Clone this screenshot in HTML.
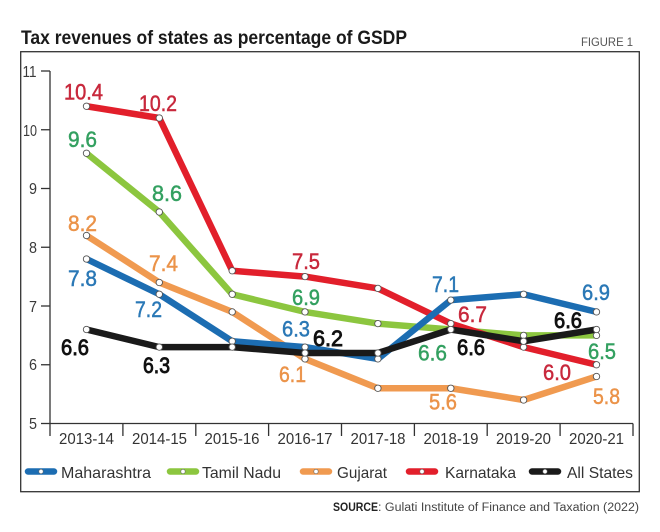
<!DOCTYPE html>
<html>
<head>
<meta charset="utf-8">
<style>
html,body{margin:0;padding:0;background:#fff;}
svg{display:block;}
text{font-family:"Liberation Sans",sans-serif;}
</style>
</head>
<body>
<svg width="660" height="532" viewBox="0 0 660 532" xmlns="http://www.w3.org/2000/svg">
<rect width="660" height="532" fill="#fff"/>
<!-- title -->
<text x="21" y="44" font-size="19.5" font-weight="bold" fill="#1a1a1a" textLength="386" lengthAdjust="spacingAndGlyphs">Tax revenues of states as percentage of GSDP</text>
<text x="581" y="46" font-size="12" fill="#555" textLength="52" lengthAdjust="spacingAndGlyphs">FIGURE 1</text>
<!-- frame -->
<rect x="20.7" y="51.7" width="618.6" height="440" fill="none" stroke="#333" stroke-width="1.3"/>

<!-- y axis -->
<g stroke="#333" stroke-width="1.3" fill="none">
<line x1="50" y1="71" x2="50" y2="436"/>
<line x1="41" y1="71" x2="50" y2="71"/>
<line x1="41" y1="129.75" x2="50" y2="129.75"/>
<line x1="41" y1="188.5" x2="50" y2="188.5"/>
<line x1="41" y1="247.25" x2="50" y2="247.25"/>
<line x1="41" y1="306" x2="50" y2="306"/>
<line x1="41" y1="364.75" x2="50" y2="364.75"/>
<line x1="41" y1="423.5" x2="50" y2="423.5"/>
<line x1="50" y1="423.5" x2="633" y2="423.5"/>
<line x1="122.9" y1="423.5" x2="122.9" y2="436"/>
<line x1="195.8" y1="423.5" x2="195.8" y2="436"/>
<line x1="268.6" y1="423.5" x2="268.6" y2="436"/>
<line x1="341.5" y1="423.5" x2="341.5" y2="436"/>
<line x1="414.4" y1="423.5" x2="414.4" y2="436"/>
<line x1="487.2" y1="423.5" x2="487.2" y2="436"/>
<line x1="560.1" y1="423.5" x2="560.1" y2="436"/>
<line x1="633" y1="423.5" x2="633" y2="436"/>
</g>
<g font-size="15.5" fill="#3a3a3a">
<text x="22.5" y="77" textLength="14" lengthAdjust="spacingAndGlyphs">11</text>
<text x="23" y="136" textLength="14" lengthAdjust="spacingAndGlyphs">10</text>
<text x="29" y="194" textLength="8" lengthAdjust="spacingAndGlyphs">9</text>
<text x="29" y="253" textLength="8" lengthAdjust="spacingAndGlyphs">8</text>
<text x="29" y="312" textLength="8" lengthAdjust="spacingAndGlyphs">7</text>
<text x="29" y="370" textLength="8" lengthAdjust="spacingAndGlyphs">6</text>
<text x="29" y="429" textLength="8" lengthAdjust="spacingAndGlyphs">5</text>
</g>
<g font-size="15.5" fill="#333">
<text x="59" y="444" textLength="55" lengthAdjust="spacingAndGlyphs">2013-14</text>
<text x="132" y="444" textLength="55" lengthAdjust="spacingAndGlyphs">2014-15</text>
<text x="204.5" y="444" textLength="55" lengthAdjust="spacingAndGlyphs">2015-16</text>
<text x="277.5" y="444" textLength="55" lengthAdjust="spacingAndGlyphs">2016-17</text>
<text x="350.5" y="444" textLength="55" lengthAdjust="spacingAndGlyphs">2017-18</text>
<text x="423.5" y="444" textLength="55" lengthAdjust="spacingAndGlyphs">2018-19</text>
<text x="496" y="444" textLength="55" lengthAdjust="spacingAndGlyphs">2019-20</text>
<text x="569" y="444" textLength="55" lengthAdjust="spacingAndGlyphs">2020-21</text>
</g>

<!-- series -->
<g fill="none" stroke-width="6.5" stroke-linejoin="round" stroke-linecap="round">
<polyline stroke="#f09a50" points="86.5,235.5 159.3,282.5 232.2,311.9 305,358.9 377.9,388.25 450.8,388.25 523.6,400 596.5,376.5"/>
<polyline stroke="#8cc63f" points="86.5,153.25 159.3,212 232.2,294.25 305,311.9 377.9,323.6 450.8,329.5 523.6,335.4 596.5,335.4"/>
<polyline stroke="#e21f2b" points="86.5,106.25 159.3,118 232.2,270.75 305,276.6 377.9,288.4 450.8,323.6 523.6,347.1 596.5,364.75"/>
<polyline stroke="#1c6db2" points="86.5,259 159.3,294.25 232.2,341.25 305,347.1 377.9,358.9 450.8,300.1 523.6,294.25 596.5,311.9"/>
<polyline stroke="#1a1a1a" points="86.5,329.5 159.3,347.1 232.2,347.1 305,353 377.9,353 450.8,329.5 523.6,341.25 596.5,329.5"/>
</g>
<!-- markers -->
<g fill="#fff" stroke="#555" stroke-width="0.9">
<circle cx="86.5" cy="235.5" r="3.2"/><circle cx="159.3" cy="282.5" r="3.2"/><circle cx="232.2" cy="311.9" r="3.2"/><circle cx="305" cy="358.9" r="3.2"/><circle cx="377.9" cy="388.25" r="3.2"/><circle cx="450.8" cy="388.25" r="3.2"/><circle cx="523.6" cy="400" r="3.2"/><circle cx="596.5" cy="376.5" r="3.2"/>
<circle cx="86.5" cy="153.25" r="3.2"/><circle cx="159.3" cy="212" r="3.2"/><circle cx="232.2" cy="294.25" r="3.2"/><circle cx="305" cy="311.9" r="3.2"/><circle cx="377.9" cy="323.6" r="3.2"/><circle cx="450.8" cy="329.5" r="3.2"/><circle cx="523.6" cy="335.4" r="3.2"/><circle cx="596.5" cy="335.4" r="3.2"/>
<circle cx="86.5" cy="106.25" r="3.2"/><circle cx="159.3" cy="118" r="3.2"/><circle cx="232.2" cy="270.75" r="3.2"/><circle cx="305" cy="276.6" r="3.2"/><circle cx="377.9" cy="288.4" r="3.2"/><circle cx="450.8" cy="323.6" r="3.2"/><circle cx="523.6" cy="347.1" r="3.2"/><circle cx="596.5" cy="364.75" r="3.2"/>
<circle cx="86.5" cy="259" r="3.2"/><circle cx="159.3" cy="294.25" r="3.2"/><circle cx="232.2" cy="341.25" r="3.2"/><circle cx="305" cy="347.1" r="3.2"/><circle cx="377.9" cy="358.9" r="3.2"/><circle cx="450.8" cy="300.1" r="3.2"/><circle cx="523.6" cy="294.25" r="3.2"/><circle cx="596.5" cy="311.9" r="3.2"/>
<circle cx="86.5" cy="329.5" r="3.2"/><circle cx="159.3" cy="347.1" r="3.2"/><circle cx="232.2" cy="347.1" r="3.2"/><circle cx="305" cy="353" r="3.2"/><circle cx="377.9" cy="353" r="3.2"/><circle cx="450.8" cy="329.5" r="3.2"/><circle cx="523.6" cy="341.25" r="3.2"/><circle cx="596.5" cy="329.5" r="3.2"/>
</g>

<!-- value labels -->
<g font-size="22" stroke-width="0.5">
<g fill="#c8283c" stroke="#c8283c">
<text x="64" y="99.5" textLength="39" lengthAdjust="spacingAndGlyphs">10.4</text>
<text x="139" y="111" textLength="38" lengthAdjust="spacingAndGlyphs">10.2</text>
<text x="292" y="269" textLength="28" lengthAdjust="spacingAndGlyphs">7.5</text>
<text x="458" y="322" textLength="29" lengthAdjust="spacingAndGlyphs">6.7</text>
<text x="543" y="380" textLength="28" lengthAdjust="spacingAndGlyphs">6.0</text>
</g>
<g fill="#33a060" stroke="#33a060">
<text x="68" y="147" textLength="29" lengthAdjust="spacingAndGlyphs">9.6</text>
<text x="152" y="201" textLength="30" lengthAdjust="spacingAndGlyphs">8.6</text>
<text x="292" y="305" textLength="28" lengthAdjust="spacingAndGlyphs">6.9</text>
<text x="418" y="360.5" textLength="29" lengthAdjust="spacingAndGlyphs">6.6</text>
<text x="588" y="359" textLength="28" lengthAdjust="spacingAndGlyphs">6.5</text>
</g>
<g fill="#2a78b6" stroke="#2a78b6">
<text x="68" y="286" textLength="29" lengthAdjust="spacingAndGlyphs">7.8</text>
<text x="135" y="317" textLength="27" lengthAdjust="spacingAndGlyphs">7.2</text>
<text x="282" y="336.5" textLength="28" lengthAdjust="spacingAndGlyphs">6.3</text>
<text x="432" y="292" textLength="27" lengthAdjust="spacingAndGlyphs">7.1</text>
<text x="582" y="300" textLength="28" lengthAdjust="spacingAndGlyphs">6.9</text>
</g>
<g fill="#eb9349" stroke="#eb9349">
<text x="68" y="231" textLength="29" lengthAdjust="spacingAndGlyphs">8.2</text>
<text x="149" y="271" textLength="29" lengthAdjust="spacingAndGlyphs">7.4</text>
<text x="279" y="382" textLength="27" lengthAdjust="spacingAndGlyphs">6.1</text>
<text x="429" y="409.5" textLength="28" lengthAdjust="spacingAndGlyphs">5.6</text>
<text x="593" y="404" textLength="27" lengthAdjust="spacingAndGlyphs">5.8</text>
</g>
<g fill="#111" stroke="#111" stroke-width="0.9">
<text x="61" y="355" textLength="28" lengthAdjust="spacingAndGlyphs">6.6</text>
<text x="143" y="373" textLength="27" lengthAdjust="spacingAndGlyphs">6.3</text>
<text x="313" y="346" textLength="30" lengthAdjust="spacingAndGlyphs">6.2</text>
<text x="457" y="355" textLength="28" lengthAdjust="spacingAndGlyphs">6.6</text>
<text x="554" y="328" textLength="28" lengthAdjust="spacingAndGlyphs">6.6</text>
</g>
</g>

<!-- legend -->
<g stroke-width="6.5" stroke-linecap="round">
<line x1="28" y1="471.5" x2="54" y2="471.5" stroke="#1c6db2"/>
<line x1="170" y1="471.5" x2="196" y2="471.5" stroke="#8cc63f"/>
<line x1="303" y1="471.5" x2="329" y2="471.5" stroke="#f09a50"/>
<line x1="409" y1="471.5" x2="435" y2="471.5" stroke="#e21f2b"/>
<line x1="532" y1="471.5" x2="558" y2="471.5" stroke="#1a1a1a"/>
</g>
<g fill="#fff" stroke="#666" stroke-width="0.6">
<circle cx="41" cy="471.5" r="2.2"/>
<circle cx="183" cy="471.5" r="2.2"/>
<circle cx="316" cy="471.5" r="2.2"/>
<circle cx="422" cy="471.5" r="2.2"/>
<circle cx="545" cy="471.5" r="2.2"/>
</g>
<g font-size="16" fill="#333">
<text x="61" y="478" textLength="90" lengthAdjust="spacingAndGlyphs">Maharashtra</text>
<text x="202" y="478" textLength="79" lengthAdjust="spacingAndGlyphs">Tamil Nadu</text>
<text x="337" y="478" textLength="50" lengthAdjust="spacingAndGlyphs">Gujarat</text>
<text x="445" y="478" textLength="71" lengthAdjust="spacingAndGlyphs">Karnataka</text>
<text x="567" y="478" textLength="66" lengthAdjust="spacingAndGlyphs">All States</text>
</g>

<!-- source -->
<text x="333" y="511" font-size="11.5" font-weight="bold" fill="#222" textLength="45" lengthAdjust="spacingAndGlyphs">SOURCE</text>
<text x="378" y="511" font-size="11.5" fill="#444" textLength="261" lengthAdjust="spacingAndGlyphs">: Gulati Institute of Finance and Taxation (2022)</text>
</svg>
</body>
</html>
